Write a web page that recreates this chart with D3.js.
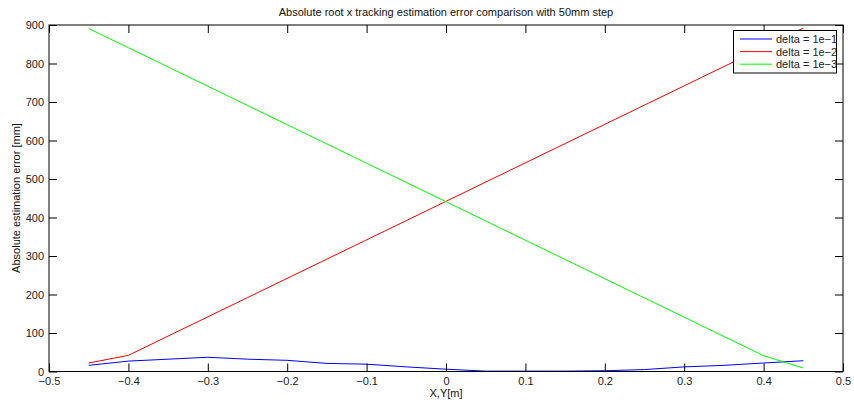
<!DOCTYPE html>
<html><head><meta charset="utf-8">
<script src="https://cdn.jsdelivr.net/npm/d3@7"></script>
<style>body{margin:0;background:#fff}svg{display:block}text{font-family:"Liberation Sans",Arial,sans-serif}</style>
</head><body><svg id="c" width="854" height="402"></svg>
<script>
const xValues = [-0.45,-0.4,-0.35,-0.3,-0.25,-0.2,-0.15,-0.1,-0.05,0,0.05,0.1,0.15,0.2,0.25,0.3,0.35,0.4,0.45];
const delta1 = [16,27,32,37,32,29,21,19,12,6,1,1,1,2,5,12,16,22,28];
const delta2 = [22,42,92,142,192,242,292,342,392,442,492,542,592,642,692,742,792,842,892];
const delta3 = [891,841,791,741,691,641,591,541,491,441,391,341,291,241,191,141,91,41,9];
const seriesNames = ["delta = 1e\u22121","delta = 1e\u22122","delta = 1e\u22123"];
const seriesColors = ["#0000ff","#ff0000","#00ff00"];
const xTicks = [-0.5,-0.4,-0.3,-0.2,-0.1,0,0.1,0.2,0.3,0.4,0.5];
const yTicks = [0,100,200,300,400,500,600,700,800,900];

const L=49,R=843,T=25,B=371.5;
const svg=d3.select("#c");
const x=d3.scaleLinear().domain([-0.5,0.5]).range([L,R]);
const y=d3.scaleLinear().domain([0,900]).range([B,T]);
const fmtX=d=>d===0?"0":(d<0?"\u2212":"")+Math.abs(d).toFixed(1).replace(/^0/,"0");
const series=[delta1,delta2,delta3];
const line=d3.line().x((d,i)=>x(xValues[i])).y(d=>y(d));
series.forEach((s,k)=>{
  svg.append("path").datum(s).attr("d",line).attr("fill","none").attr("stroke",seriesColors[k]).attr("stroke-width",1);
});
// axes
const tl=8;
svg.append("g").attr("transform",`translate(0,${B})`).call(d3.axisBottom(x).tickValues(xTicks).tickSize(-tl).tickPadding(4).tickFormat(fmtX))
  .call(g=>{g.select(".domain").remove();g.selectAll("text").attr("font-size",11).attr("fill","#222").attr("dy","0.71em").attr("y",6);});
svg.append("g").attr("transform",`translate(0,${T})`).call(d3.axisTop(x).tickValues(xTicks).tickSize(-tl).tickFormat(""))
  .call(g=>g.select(".domain").remove());
svg.append("g").attr("transform",`translate(${L},0)`).call(d3.axisLeft(y).tickValues(yTicks).tickSize(-tl).tickPadding(4))
  .call(g=>{g.select(".domain").remove();g.selectAll("text").attr("font-size",11).attr("fill","#222").attr("x",-5);});
svg.append("g").attr("transform",`translate(${R},0)`).call(d3.axisRight(y).tickValues(yTicks).tickSize(-tl).tickFormat(""))
  .call(g=>g.select(".domain").remove());
svg.append("rect").attr("x",L).attr("y",T).attr("width",R-L).attr("height",B-T).attr("fill","none").attr("stroke","#000").attr("stroke-width",1);
// labels
svg.append("text").attr("x",446).attr("y",16).attr("text-anchor","middle").attr("font-size",11).attr("fill","#111")
  .text("Absolute root x tracking estimation error comparison with 50mm step");
svg.append("text").attr("x",446).attr("y",397).attr("text-anchor","middle").attr("font-size",11).attr("fill","#111").text("X,Y[m]");
svg.append("text").attr("transform","translate(20,198) rotate(-90)").attr("text-anchor","middle").attr("font-size",11).attr("fill","#111")
  .text("Absolute estimation error [mm]");
// legend
const lg=svg.append("g");
lg.append("rect").attr("x",733.5).attr("y",30.5).attr("width",103).attr("height",42.5).attr("fill","#fff").attr("stroke","#000").attr("stroke-width",1);
seriesNames.forEach((n,k)=>{
  const yy=39+k*12.6;
  lg.append("line").attr("x1",740).attr("x2",772).attr("y1",yy).attr("y2",yy).attr("stroke",seriesColors[k]).attr("stroke-width",1);
  lg.append("text").attr("x",776).attr("y",yy+4).attr("font-size",11).attr("fill","#222").text(n);
});
</script></body></html>
